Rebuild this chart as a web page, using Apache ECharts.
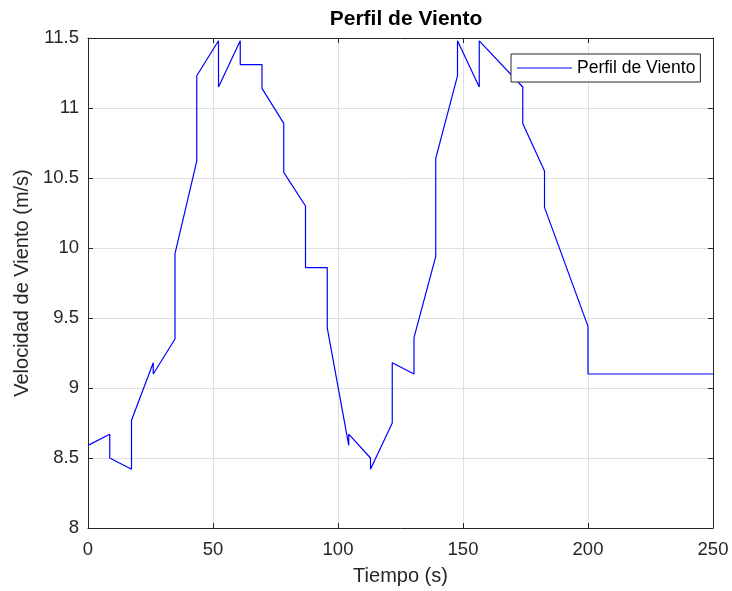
<!DOCTYPE html>
<html>
<head>
<meta charset="utf-8">
<script src="https://cdn.jsdelivr.net/npm/echarts@6/dist/echarts.min.js"></script>
<style>
  html, body { margin: 0; padding: 0; background: #fff; }
  #chart { width: 732px; height: 591px; }
</style>
</head>
<body>
<div id="chart"></div>
<script>
// Wind speed profile: time (s) and speed (m/s); repeated times mark step changes
const tiempo = [0, 8.7, 8.7, 17.4, 17.4, 26.1, 26.1, 34.8, 34.8, 43.5, 43.5, 52.2, 52.2,
  60.9, 60.9, 69.6, 69.6, 78.3, 78.3, 87.0, 87.0, 95.7, 95.7, 104.3, 104.3, 113.0, 113.0,
  121.7, 121.7, 130.4, 130.4, 139.1, 139.1, 147.8, 147.8, 156.5, 156.5, 173.9, 173.9,
  182.6, 182.6, 200, 200, 250];
const velocidad = [8.59, 8.67, 8.50, 8.42, 8.77, 9.18, 9.10, 9.35, 9.96, 10.62, 11.23, 11.48, 11.15,
  11.48, 11.31, 11.31, 11.14, 10.89, 10.54, 10.30, 9.86, 9.86, 9.43, 8.59, 8.67, 8.50, 8.42,
  8.75, 9.18, 9.10, 9.36, 9.94, 10.64, 11.23, 11.48, 11.15, 11.48, 11.15, 10.89,
  10.55, 10.29, 9.44, 9.10, 9.10];

const xTicks = { min: 0, max: 250, interval: 50 };
const yTicks = { min: 8, max: 11.5, interval: 0.5 };

const puntos = tiempo.map((t, i) => [t, velocidad[i]]);

const ink = '#262626';
const gridColor = '#dfdfdf';
const font = 'Liberation Sans, Arial, Helvetica, sans-serif';

const chart = echarts.init(document.getElementById('chart'), null, { renderer: 'canvas' });

const baseAxis = {
  axisLine: { show: true, onZero: false, lineStyle: { color: ink, width: 1 } },
  axisTick: { show: true, inside: true, length: 5, lineStyle: { color: ink } },
};

chart.setOption({
  animation: false,
  backgroundColor: '#ffffff',
  title: {
    text: 'Perfil de Viento',
    left: 401, top: 4, textAlign: 'center',
    textStyle: { fontFamily: font, fontSize: 21, fontWeight: 'bold', color: '#000' }
  },
  legend: {
    left: 511, top: 54,
    padding: [5, 5, 5, 6],
    backgroundColor: '#ffffff',
    borderColor: ink, borderWidth: 1,
    itemWidth: 55, itemHeight: 1.2, icon: 'rect',
    textStyle: { fontFamily: font, fontSize: 17.5, color: '#000', lineHeight: 18 },
    data: ['Perfil de Viento']
  },
  grid: { left: 88, right: 19, top: 38, bottom: 60, containLabel: false },
  xAxis: [
    Object.assign({}, baseAxis, {
      type: 'value', position: 'bottom',
      min: xTicks.min, max: xTicks.max, interval: xTicks.interval,
      name: 'Tiempo (s)', nameLocation: 'middle', nameGap: 38,
      nameTextStyle: { fontFamily: font, fontSize: 20, color: ink },
      axisLabel: { fontFamily: font, fontSize: 18.5, color: ink, margin: 12 },
      splitLine: { show: true, lineStyle: { color: gridColor, width: 1 } }
    }),
    Object.assign({}, baseAxis, {
      type: 'value', position: 'top',
      min: xTicks.min, max: xTicks.max, interval: xTicks.interval,
      axisLabel: { show: false }, splitLine: { show: false }
    })
  ],
  yAxis: [
    Object.assign({}, baseAxis, {
      type: 'value', position: 'left',
      min: yTicks.min, max: yTicks.max, interval: yTicks.interval,
      name: 'Velocidad de Viento (m/s)', nameLocation: 'middle', nameGap: 51,
      nameTextStyle: { fontFamily: font, fontSize: 20, color: ink },
      axisLabel: { fontFamily: font, fontSize: 18.5, color: ink, margin: 9 },
      splitLine: { show: true, lineStyle: { color: gridColor, width: 1 } }
    }),
    Object.assign({}, baseAxis, {
      type: 'value', position: 'right',
      min: yTicks.min, max: yTicks.max, interval: yTicks.interval,
      axisLabel: { show: false }, splitLine: { show: false }
    })
  ],
  series: [{
    name: 'Perfil de Viento',
    type: 'line',
    xAxisIndex: 0, yAxisIndex: 0,
    data: puntos,
    showSymbol: false,
    symbol: 'none',
    lineStyle: { color: '#0000ff', width: 1.2 },
    itemStyle: { color: '#0000ff' },
    z: 2
  }]
});
</script>
</body>
</html>
